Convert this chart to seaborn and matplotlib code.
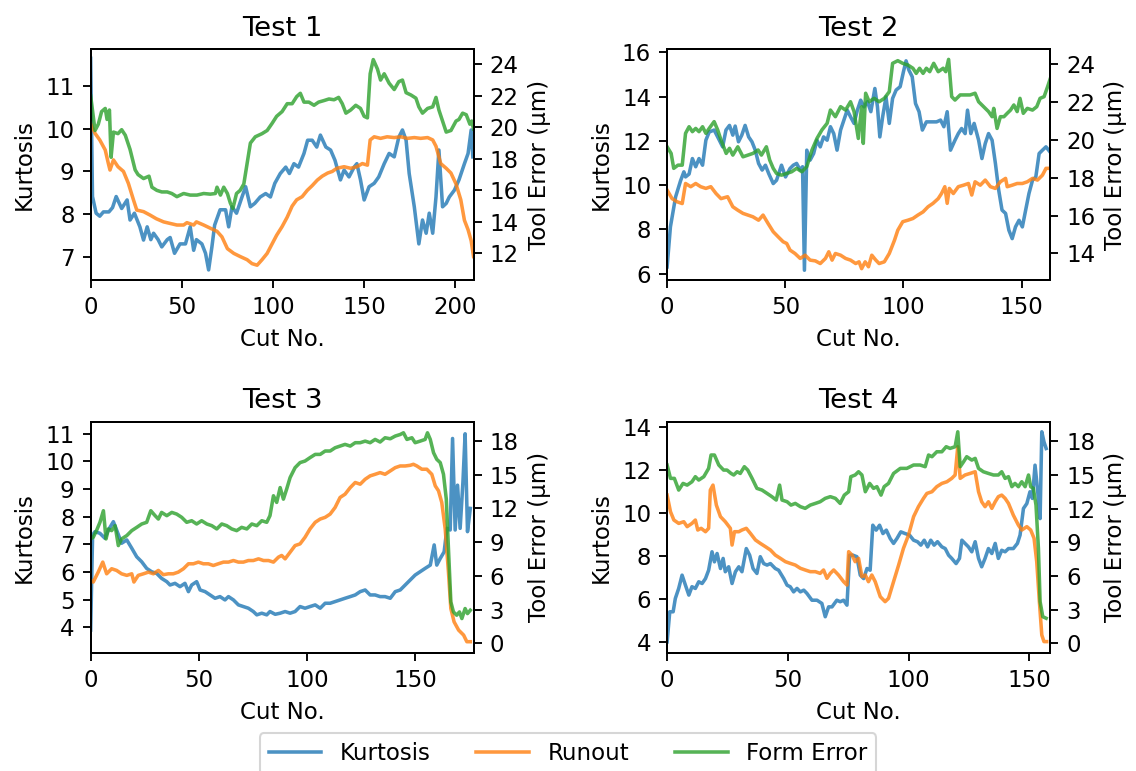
import matplotlib
matplotlib.use("Agg")
import matplotlib.pyplot as plt
import seaborn as sns

plt.rcParams['font.family'] = ['DejaVu Sans']
plt.rcParams.update({
    'axes.linewidth': 0.9,
    'xtick.major.size': 3.9, 'ytick.major.size': 3.9,
    'xtick.major.width': 0.9, 'ytick.major.width': 0.9,
    'xtick.major.pad': 3.8, 'ytick.major.pad': 3.8,
})

# ---------------- data ----------------
series_names = ["Kurtosis", "Runout", "Form Error"]
titles = ["Test 1", "Test 2", "Test 3", "Test 4"]

# Test 1
t1_k_cut = [0,1,3,5,7,10,12,14,17,20,21.6,24,27,29,31,33,34.5,37,39,42,43.6,46,49,52,54.6,56.5,58,61,63,64.7,
            66.5,68,71,74,75.7,77.5,80,83,85,87.6,90,93,96,98.6,101,104,107,109,111.5,114,117,119,121.5,124,126,
            129,131.6,134,137,139,141.7,144.5,146,148,150,152.7,155.5,158,161,163.7,166.5,169,171,173,174.7,177.5,
            180,182,184,185.7,187.6,189.4,191,193,195,196.7,199.5,202,205,207,208.7,209.6]
t1_kurt = [11.65,8.41,8.02,7.95,8.05,8.05,8.15,8.41,8.13,8.33,7.86,8.02,7.70,7.39,7.70,7.40,7.55,7.40,7.23,7.40,
           7.45,7.08,7.30,7.30,7.70,7.15,7.40,7.30,7.08,6.69,7.23,7.74,8.10,8.10,7.70,8.17,8.02,8.40,8.64,8.17,
           8.25,8.40,8.48,8.40,8.72,8.95,9.10,8.95,9.18,9.10,9.42,9.73,9.73,9.57,9.85,9.57,9.50,9.26,8.80,9.03,
           8.87,9.10,9.18,8.80,8.33,8.64,8.72,8.87,9.18,9.42,9.34,9.80,9.97,9.73,8.95,8.17,7.30,7.86,7.55,8.02,
           7.55,8.40,9.50,8.17,8.25,8.40,8.56,8.80,9.18,9.42,9.97,9.34]
t1_r_cut = [0,2.4,5,8,9.7,10.6,12.5,15,18,20.7,23.5,25.3,29,32.6,36,40,43.6,47.3,51,52.8,56.5,58,62,65.6,69.3,
            72,75,78.5,82,85.8,88.5,91.3,94,96.8,99.5,102,105,107.8,110.5,113,116,118.8,121.5,124.3,127,130,
            132.5,135,139,142.6,146,149,151.8,153.3,155.5,159,162.6,166.5,170,173.8,177.5,181,184.8,187.6,189.4,
            192,195,197.6,200.4,203,205,207,208.7,210]
t1_runout = [20.25,19.62,19.2,18.56,17.71,17.29,17.93,17.5,17.2,16.44,15.39,14.75,14.65,14.43,14.2,14.0,13.9,13.8,
             13.8,13.95,13.8,14.0,13.8,13.6,13.4,13.05,12.3,12.0,11.8,11.6,11.35,11.25,11.6,12.0,12.6,13.15,13.7,
             14.3,15.0,15.4,15.6,16.0,16.3,16.65,16.9,17.1,17.2,17.4,17.5,17.4,17.5,17.7,17.6,19.2,19.4,19.3,19.4,
             19.35,19.4,19.3,19.35,19.3,19.35,19.2,18.8,17.7,17.4,17.1,16.4,15.4,14.1,13.5,12.8,11.8]
t1_f_cut = [0,2.4,4.2,6,8,9,10.3,11.2,12.5,15,17,19,21.6,24.4,26,29,32,33.6,36.3,39,42,44.5,47.3,51,54.6,58.3,62,
            65.6,68.4,69.3,71.2,73,75,76.6,78,80,82,84,85.8,87.6,90.3,94,96.8,99.5,102,105,107.8,110.5,113,115,
            117,119.7,122.5,125,128,130.7,133.5,136,138,140,142.6,145.4,148,150,151.8,153.3,155,157.3,159,161,
            163.7,166.5,169,171,173,175.7,178.4,180,182,184.8,187.6,189.4,191,193,195,197.6,200.4,202,204,206,
            208,209,210]
t1_form = [22.0,19.8,20.2,21.0,21.2,20.5,21.1,18.1,19.7,19.6,19.85,19.5,18.6,17.3,17.0,16.75,16.9,16.2,16.0,15.9,
           15.9,15.8,15.6,15.8,15.7,15.7,15.8,15.76,15.8,16.2,15.7,16.2,15.8,15.2,14.85,15.8,16.0,16.4,17.7,19.0,
           19.4,19.6,19.8,20.25,20.7,21.0,21.5,21.5,21.95,22.16,21.6,21.6,21.4,21.6,21.7,21.8,21.75,21.9,21.5,20.9,
           21.1,21.4,21.2,20.7,20.6,23.4,24.3,23.7,23.0,23.4,22.8,22.4,22.9,23.0,22.2,22.05,21.85,21.3,20.9,21.2,
           21.3,21.9,21.1,20.4,19.7,19.8,20.4,20.5,20.9,20.8,20.2,20.4,19.9]

# Test 2
t2_k_cut = [0,1.4,3.6,5.7,7.1,7.8,9.3,10.7,12.1,13.5,15,16.4,17.8,19.9,22.1,23.5,24.9,26.4,27.8,28.8,30.2,31.6,33,
            34.5,35.9,37.3,38.7,40.2,41.6,43,44.9,46.3,48.4,50.1,52,53.4,54.8,56.3,57.3,58.1,59.1,60.5,62,63.4,
            64.8,66.2,67.7,69.1,70.5,71.9,73.4,74.8,76.2,77.6,79.1,80.5,81.9,83.3,84.8,86.2,87.9,89,90,91.2,92.6,
            94,95.4,96.9,98.6,100,101.1,102.3,103.7,105.1,106.6,108,109.7,111.8,114,115.7,117.1,118.5,119.9,121.8,
            123.2,124.6,126.1,127.1,128.5,129.9,131.8,133.2,134.6,136,137.5,138.9,140.3,141.7,143.2,144.6,146,
            147.4,148.9,150.3,151.7,153.1,154.6,156,157.4,158.8,160.3,162]
t2_kurt = [6.3,8.11,9.47,10.2,10.6,10.37,10.5,11.2,10.83,11.2,10.9,12.03,12.4,12.49,12.03,11.73,12.49,12.7,12.26,
           12.67,11.96,12.26,12.7,12.18,11.96,11.58,10.98,10.68,10.9,10.52,10.07,10.22,10.9,10.37,10.75,10.9,10.98,
           10.68,10.83,6.15,11.58,11.13,11.43,12.03,11.73,12.18,12.03,12.64,12.33,11.58,12.49,12.94,13.39,13.09,
           12.79,13.39,13.84,13.54,13.77,13.32,14.37,13.54,12.18,13.09,13.99,12.79,13.92,14.3,14.45,15.13,15.62,
           15.2,14.9,13.69,13.32,12.49,12.86,12.86,12.86,12.94,12.64,13.32,11.58,12.03,12.33,12.56,12.33,13.39,
           12.33,12.79,12.03,11.2,11.88,12.33,12.03,10.98,9.77,8.87,8.72,7.96,7.58,8.11,8.41,8.11,8.87,9.62,10.22,
           10.37,11.43,11.58,11.73,11.5]
t2_r_cut = [0,2.1,4.3,6.4,7.8,10,12.1,14.2,16.4,18.5,20.7,22.8,25.6,27.8,29.9,32.1,34.2,36.3,38.7,40.6,42.7,44.9,
            47,49.1,50.6,52,54.1,56.3,58.4,60.5,62.7,64.8,67,68.4,69.8,71.2,73.4,75.5,77.6,79.8,81.2,82.3,83.8,
            85.2,86.6,88.3,89.7,91.9,94,96.2,97.6,99.7,101.9,104,106.1,108.3,110.4,112.5,114.7,116.1,117.5,118.5,
            119.4,121.1,123.2,125.4,127.5,128.9,130.3,132.5,134.6,136.8,138.9,141,143.2,143.9,146,148.1,150.3,
            152.4,154.6,156.7,158.8,160.3,162]
t2_runout = [17.35,16.9,16.73,16.64,17.7,17.53,17.7,17.53,17.44,17.53,17.17,16.9,17.0,16.47,16.29,16.12,16.03,15.94,
             15.76,16.03,15.59,15.15,14.88,14.62,14.53,14.18,14.0,13.74,13.91,13.65,13.61,13.47,13.74,14.09,13.65,
             14.0,13.91,13.74,13.65,13.47,13.56,13.2,13.56,13.3,13.91,13.65,13.47,13.56,14.0,14.7,15.23,15.68,15.76,
             15.85,16.03,16.2,16.47,16.65,16.9,17.17,17.53,16.65,17.44,17.17,17.53,17.61,17.7,17.09,17.79,17.61,
             17.88,17.53,17.44,17.79,17.97,17.53,17.61,17.7,17.7,17.79,17.97,17.88,18.14,18.5,18.5]
t2_f_cut = [0,1.7,2.8,4.6,6.4,7.8,9.3,10.7,12.1,13.5,15,16.4,17.8,19.9,21.4,22.8,25,26.4,27.8,29.9,32.1,34.2,36.3,
            38.5,39.9,42,43.4,44.9,46.3,48.4,50.6,52.7,54.8,57,59.1,61.3,63.4,65.5,67.7,69.1,71.2,73.4,75.5,77.6,
            79.1,80.9,82.3,83,84,85.5,87.6,89.7,91.9,94,95.4,97.6,99.7,101.9,104,105.4,106.8,108.3,109.7,111.1,
            112.8,114.7,116.8,117.9,119.1,120.4,121.8,124,126.1,128.2,130.3,131.8,133.9,136,137.5,138.2,139.6,141,
            142.5,143.9,145.3,146.7,148.1,149.3,150.7,152.4,154.6,156.4,157.8,159.5,161,162]
t2_form = [19.64,19.29,18.5,18.67,18.67,20.35,20.7,20.44,20.61,20.44,20.7,20.35,20.61,20.97,20.53,20.0,19.29,19.56,
           19.2,19.64,19.11,19.2,19.29,19.47,19.2,19.64,18.94,18.5,18.23,18.14,18.23,18.32,18.5,18.32,18.59,19.47,
           20.08,20.53,20.88,21.58,21.23,21.76,21.58,22.02,21.5,20.08,21.76,19.82,22.47,22.02,22.2,22.02,22.2,22.55,
           24.05,24.19,24.05,23.96,23.79,23.52,23.79,23.52,23.79,23.61,24.05,23.61,23.79,23.61,24.26,22.29,22.11,
           22.38,22.38,22.38,22.47,22.02,21.76,21.5,21.23,21.67,20.61,21.23,21.23,21.41,21.58,21.85,21.5,22.2,
           21.41,21.67,21.58,21.76,22.2,22.29,22.82,23.2]

# Test 3
t3_k_cut = [0,0.9,2,4.3,6.6,8.2,10.5,12,14.3,16.7,19,21.3,23.6,25.9,28.2,30.5,32.8,35.2,36.7,39,41.3,43.6,45.2,
            46.7,49,50.6,52.9,55.2,57.5,59.8,62.1,63.7,66,68.3,70.6,72.9,75.2,76.8,79.1,81.4,82.9,85.3,87.6,89.9,
            92.2,94.5,96.8,99.1,101.4,103.8,106.1,108.4,110.7,113,115.3,117.6,120,122.3,124.6,126.9,129.2,131.5,
            133.8,136.1,138.5,140.8,143.1,145.4,147.7,150,152.3,154.6,157,158.8,160,161.6,163.4,164.7,166.2,167.3,
            168.5,169.6,170.8,172.1,173.1,174.2,175.5]
t3_kurt = [3.9,7.34,7.46,7.4,7.22,7.52,7.82,7.52,7.04,7.16,6.86,6.55,6.37,6.13,6.01,5.95,5.77,5.65,5.53,5.59,5.47,
           5.59,5.29,5.53,5.65,5.35,5.29,5.17,5.05,5.11,4.99,5.11,4.99,4.81,4.75,4.69,4.57,4.45,4.51,4.45,4.57,4.47,
           4.51,4.57,4.51,4.57,4.75,4.69,4.75,4.81,4.69,4.87,4.87,4.93,4.99,5.05,5.11,5.17,5.29,5.35,5.17,5.17,5.11,
           5.11,5.05,5.29,5.35,5.53,5.71,5.89,6.01,6.13,6.25,6.98,6.25,6.49,6.73,7.58,7.52,10.83,7.52,9.14,7.58,
           9.27,11.0,7.46,8.3]
t3_r_cut = [0,1.2,3.5,5.6,7.4,9.7,12,14.3,16.7,19,20,22,24.4,26.7,29,31.3,33.6,35.9,38.2,40.5,42.9,45.2,47.5,49.8,
            52.1,54.4,56.7,59,61.4,63.7,66,68.3,70.6,72.9,75.2,77.6,79.9,82.2,84.5,86.8,88.3,89.9,92.2,94.5,96.8,
            99.1,101.4,103.8,106.1,108.4,110.7,113,115.3,117.6,120,122.3,124.6,126.9,129.2,131.5,133.8,136.1,
            138.5,140.8,143.1,145.4,147.7,149.2,150.8,153.1,155.4,157.7,159.3,160.8,162.3,163.9,165.4,166.5,168,
            170.1,172.4,173.9,175.5]
t3_runout = [5.6,5.46,6.34,7.23,6.19,6.64,6.49,6.19,6.05,6.19,5.46,6.05,6.19,6.34,6.19,6.49,6.11,6.19,6.19,6.34,
             6.64,7.08,7.08,7.23,7.08,7.08,6.93,7.08,7.23,7.23,7.37,7.23,7.23,7.37,7.37,7.52,7.37,7.37,7.23,7.67,
             7.82,7.52,8.11,8.7,8.85,9.44,10.18,10.77,11.06,11.21,11.5,12.09,12.98,13.27,13.86,14.31,14.16,14.6,
             14.9,15.04,15.19,15.04,15.34,15.63,15.78,15.78,15.84,15.93,15.78,15.49,15.49,15.04,14.01,13.57,12.54,
             10.18,6.34,3.1,1.92,1.18,0.74,0.15,0.15]
t3_f_cut = [0,1.2,2.7,4.3,5.9,7.1,8.2,9.7,11.3,12.8,14.3,16.7,19,21.3,23.6,25.9,27.8,29.8,31.3,32.8,35.2,37.5,39.8,
            42.1,44.4,46.7,49,51.3,53.7,56,58.3,60.6,62.9,65.2,67.5,69.8,72.2,74.5,76.8,79.1,81.4,82.9,84.5,86,
            87.6,89.1,90.6,92.2,94.5,96.8,99.1,101.4,103.8,106.1,108.4,110.7,113,115.3,117.6,120,122.3,124.6,126.9,
            129.2,131.5,133.8,136.1,138.5,140.8,143.1,144.6,146.2,148.5,150,152.3,154.6,155.7,157,158.5,160,161.6,
            163.1,164.4,165.4,166.5,167.7,169.2,170.5,171.6,173.1,174.2,175.5]
t3_form = [9.29,9.44,10.03,10.77,11.8,9.29,10.18,10.03,10.47,8.7,9.29,9.59,10.03,10.32,10.62,10.77,11.8,11.36,11.06,
           11.65,11.36,11.65,11.5,11.21,10.77,10.91,10.62,10.91,10.62,10.47,10.18,10.62,10.47,10.18,10.03,10.32,
           10.18,10.62,10.47,10.91,10.77,11.36,13.13,12.54,13.86,12.83,13.72,14.75,15.63,16.08,16.22,16.52,16.81,
           16.81,17.11,17.11,17.4,17.55,17.7,17.55,17.85,17.85,17.99,17.85,18.14,17.91,18.29,18.2,18.44,18.58,
           18.73,18.14,18.29,17.85,17.99,18.14,18.73,18.14,16.96,16.37,16.08,15.04,12.83,8.41,3.69,2.8,2.51,2.8,
           2.21,3.1,2.65,2.95]

# Test 4
t4_k_cut = [0,1.1,2.5,3.4,4.8,6.2,7.6,9,10.3,11.7,13.1,14.5,15.9,17.2,18.6,19.6,20.7,22.1,23.2,24.1,25.5,26.9,28.3,
            29.7,31,32.8,34.2,35.6,37.2,38.6,40,41.4,42.8,44.8,46.2,48.3,49.7,51,52.4,53.8,55.2,56.6,57.9,60,62.1,
            64.1,65.5,66.9,68.3,70.3,71.7,73.1,74.5,75.6,77,78.6,80,81.4,82.8,84.1,85.2,86.6,88,89.4,90.8,92.4,
            93.8,95.2,96.8,98.6,100.4,102.1,103.7,105.1,106.5,107.9,109.2,110.6,112,113.8,115.2,116.6,117.9,119.7,
            121.1,122.1,123.4,124.8,126.2,127.6,129,130.3,131.7,133.1,134.5,135.9,137.2,138.6,140,141.4,143.4,
            145.1,146.2,147.6,149,150.3,151.3,152.4,153.4,154.5,155.2,156.1,157]
t4_kurt = [4.0,5.4,5.4,6.02,6.49,7.11,6.64,6.18,6.57,6.49,6.8,6.72,6.95,7.34,8.2,7.73,8.12,7.42,7.89,7.27,7.5,6.72,
           7.27,7.5,7.27,8.35,8.04,7.42,7.19,7.97,7.65,7.58,7.65,7.42,7.34,6.95,6.64,6.57,6.33,6.49,6.33,6.41,6.26,
           5.94,5.94,5.79,5.17,5.63,5.63,5.94,5.87,5.94,5.71,8.04,8.04,7.97,7.11,6.95,7.42,7.34,9.44,9.21,9.44,9.05,
           9.21,8.82,8.59,8.82,9.13,9.05,8.98,8.74,8.67,8.51,8.74,8.43,8.74,8.51,8.67,8.43,8.35,8.04,7.89,7.65,
           7.89,8.74,8.59,8.43,8.2,8.67,7.89,7.5,7.89,8.35,8.12,8.59,7.89,8.27,8.2,8.35,8.35,8.59,8.98,10.22,10.45,
           11.0,10.69,12.24,11.15,9.75,13.8,13.33,13.02]
t4_r_cut = [0,1.4,2.8,4.8,6.9,8.3,10.3,11.7,12.7,14.1,15.9,17.2,17.9,19,20.4,22.1,24.1,26.2,26.9,27.9,29.7,31,32.8,
            34.5,36.6,38.6,40.7,42.8,44.8,46.9,49,51,53.1,55.2,57.2,59.3,61.4,63.4,64.8,66.2,67.6,69,71,73.1,74.5,
            75.2,76.6,77.9,79.3,80.7,82.1,83.4,84.8,86.2,88.3,90.3,91.7,93.8,95.9,97.9,100,102.1,104.1,106.2,107.6,
            109.7,111.7,113.8,115.9,117.9,119.3,120.4,121.4,123.4,125.5,127.6,129,130.3,131.7,133.1,134.5,135.9,
            137.2,138.6,140,141.4,143.4,145.5,146.9,149,150.6,152,153.1,154.2,155.2,156.1,157.2]
t4_runout = [13.2,11.72,10.98,10.68,10.83,10.39,10.68,10.98,10.09,10.24,9.94,10.24,13.65,14.09,12.31,11.28,10.83,
             10.24,8.75,9.94,9.94,10.09,10.24,9.79,9.2,8.9,8.61,8.31,7.86,7.57,7.27,7.12,6.97,6.68,6.53,6.38,6.38,
             6.23,6.53,5.79,6.23,6.53,6.08,5.49,5.19,8.16,7.86,7.27,7.57,5.93,6.08,5.49,6.08,5.49,4.15,3.71,4.0,
             5.49,6.97,8.46,9.64,11.28,12.17,12.91,13.35,13.5,13.95,14.24,14.39,14.69,14.99,17.51,14.69,14.99,15.13,
             15.28,13.5,12.61,12.17,12.61,12.02,12.61,13.06,13.2,12.91,12.46,11.42,10.53,10.09,10.39,10.09,9.35,
             7.27,3.71,0.74,0.15,0.15]
t4_f_cut = [0,1.4,3,4.8,6.6,8.3,10.3,11.7,13.1,15.2,17.2,18.2,19.6,21.4,23.4,24.8,26.5,27.6,29,30.3,32,33.4,35.2,
            37.2,39.3,41.4,43.4,45.2,46.6,47.6,49.7,51.3,53.1,55.2,57.2,59.3,61.4,63.4,65.5,67.6,69.7,71.7,73.4,
            75.2,76.1,77.9,79.3,80.7,82.1,83.9,85.5,86.9,88.6,89.9,91.7,93.8,96.6,99.3,102.1,104.8,106.9,108.3,
            109.7,111.7,113.8,115.6,117.2,119.3,120.4,121.4,122.8,124.1,126.2,127.6,129,131,133.1,135.2,137.2,138.6,
            140,141.4,142.8,144.1,145.5,146.9,148.3,149.7,150.6,151.7,152.8,153.8,154.5,155.6,157]
t4_form = [15.88,14.69,14.69,13.65,14.24,14.09,14.39,14.84,14.54,14.84,15.58,16.77,16.77,15.88,15.43,15.43,15.13,
           14.99,15.28,15.13,15.73,15.43,14.69,13.8,13.65,13.35,13.06,12.76,14.09,12.76,12.61,12.31,12.46,12.17,
           12.02,12.31,12.46,12.61,12.91,13.06,12.91,12.46,13.2,13.5,14.84,14.99,15.28,14.99,13.5,14.24,13.8,13.95,
           13.2,13.95,14.24,15.13,15.58,15.58,15.88,15.88,15.73,16.77,16.62,17.06,17.06,17.51,17.36,17.51,18.84,
           15.73,16.17,16.62,16.32,16.47,15.58,15.28,15.13,14.99,14.99,15.28,14.69,14.84,13.95,14.24,13.95,14.39,
           13.95,14.99,13.95,13.8,12.31,8.46,3.71,2.37,2.23]

# axis ranges and tick labels
x_max = [210, 162, 177, 158.6]
x_ticks = [[0, 50, 100, 150, 200], [0, 50, 100, 150], [0, 50, 100, 150], [0, 50, 100, 150]]
k_lims = [(6.45, 11.86), (5.70, 16.14), (3.08, 11.43), (3.49, 14.26)]
k_ticks = [[7, 8, 9, 10, 11], [6, 8, 10, 12, 14, 16], [4, 5, 6, 7, 8, 9, 10, 11], [4, 6, 8, 10, 12, 14]]
te_lims = [(10.3, 24.95), (12.59, 24.79), (-0.83, 19.7), (-0.84, 19.72)]
te_ticks = [[12, 14, 16, 18, 20, 22, 24], [14, 16, 18, 20, 22, 24], [0, 3, 6, 9, 12, 15, 18], [0, 3, 6, 9, 12, 15, 18]]

tests = [
    (t1_k_cut, t1_kurt, t1_r_cut, t1_runout, t1_f_cut, t1_form),
    (t2_k_cut, t2_kurt, t2_r_cut, t2_runout, t2_f_cut, t2_form),
    (t3_k_cut, t3_kurt, t3_r_cut, t3_runout, t3_f_cut, t3_form),
    (t4_k_cut, t4_kurt, t4_r_cut, t4_runout, t4_f_cut, t4_form),
]

colors = sns.color_palette("tab10", 3)
FS = 11
LW = 1.7

fig, axes = plt.subplots(2, 2, figsize=(1136 / 150, 771 / 150), dpi=150)
fig.subplots_adjust(left=0.0798, right=0.9243, bottom=0.1534, top=0.936, wspace=0.5055, hspace=0.614)

handles = None
for i, ax in enumerate(axes.flat):
    kc, kv, rc, rv, fc, fv = tests[i]
    sns.lineplot(x=kc, y=kv, ax=ax, color=colors[0], alpha=0.8, linewidth=LW, estimator=None, sort=False)
    ax2 = ax.twinx()
    sns.lineplot(x=rc, y=rv, ax=ax2, color=colors[1], alpha=0.8, linewidth=LW, estimator=None, sort=False)
    sns.lineplot(x=fc, y=fv, ax=ax2, color=colors[2], alpha=0.8, linewidth=LW, estimator=None, sort=False)
    ax.set_xlim(0, x_max[i])
    ax.set_xticks(x_ticks[i])
    ax.set_ylim(*k_lims[i])
    ax.set_yticks(k_ticks[i])
    ax2.set_ylim(*te_lims[i])
    ax2.set_yticks(te_ticks[i])
    ax.set_title(titles[i], fontsize=13.2, pad=6.6)
    ax.set_xlabel("Cut No.", fontsize=FS, labelpad=4.4)
    ax.set_ylabel("Kurtosis", fontsize=FS, labelpad=4.4)
    ax2.set_ylabel("Tool Error (μm)", fontsize=FS, labelpad=4.4)
    ax.tick_params(labelsize=FS)
    ax2.tick_params(labelsize=FS)
    if handles is None:
        handles = [ax.lines[-1], ax2.lines[0], ax2.lines[1]]

fig.legend(handles, series_names, loc="upper center", bbox_to_anchor=(0.5, 0.0493), borderaxespad=0,
           ncol=3, fontsize=FS, handlelength=2.3, handletextpad=0.8, columnspacing=2.0)

fig.savefig("out.png", dpi=150)
